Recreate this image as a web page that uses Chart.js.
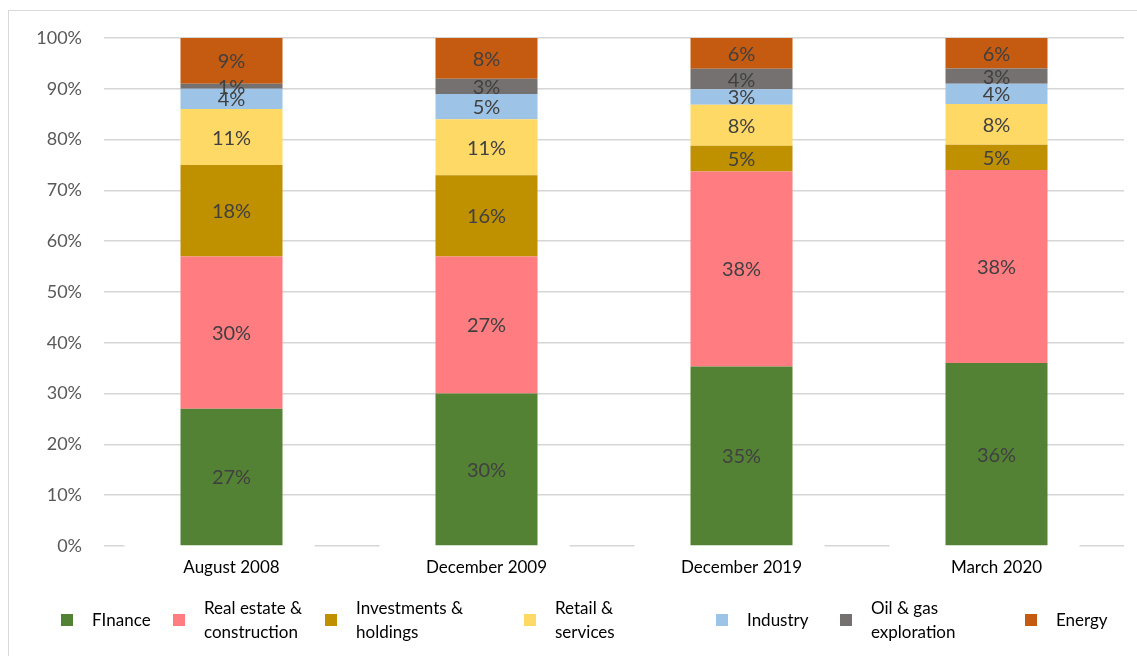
<!DOCTYPE html>
<html>
<head>
<meta charset="utf-8">
<title>Loan book by sector</title>
<script src="https://cdn.jsdelivr.net/npm/chart.js@4.4.1/dist/chart.umd.min.js"></script>
<style>
  html, body { margin: 0; padding: 0; background: #fff; }
  body { width: 1137px; height: 656px; position: relative; overflow: hidden; font-family: Lato, sans-serif; }
  #frame { position: absolute; left: 8px; top: 10px; right: -2px; bottom: -2px;
           border-top: 1px solid #d9d9d9; border-left: 1px solid #d9d9d9; }
  #wrap { position: absolute; left: 0; top: 0; width: 1137px; height: 656px; }
  #legend { position: absolute; left: 61px; top: 596px; height: 48px; display: flex; align-items: center; }
  .item { display: flex; align-items: center; flex: none; }
  .box { width: 12px; height: 12px; margin-right: 19px; flex: none; }
  .txt { font-size: 17px; line-height: 24px; color: #000; white-space: nowrap; }
</style>
</head>
<body>
<div id="frame"></div>
<div id="wrap"><canvas id="myChart" width="1137" height="656"></canvas></div>
<div id="legend"></div>

<script>
// DATA

const periods = ["August 2008", "December 2009", "December 2019", "March 2020"];
const sectors = [
  ["FInance"],
  ["Real estate &", "construction"],
  ["Investments &", "holdings"],
  ["Retail &", "services"],
  ["Industry"],
  ["Oil & gas", "exploration"],
  ["Energy"]
];
const finance     = [27, 30, 35, 36];
const realEstate  = [30, 27, 38, 38];
const investments = [18, 16, 5, 5];
const retail      = [11, 11, 8, 8];
const industry    = [4, 5, 3, 4];
const oilGas      = [1, 3, 4, 3];
const energy      = [9, 8, 6, 6];
const yTicks = [0, 10, 20, 30, 40, 50, 60, 70, 80, 90, 100];

const series = [finance, realEstate, investments, retail, industry, oilGas, energy];
const colors = ["#548235", "#ff7c80", "#bf9000", "#ffd966", "#9dc3e6", "#767171", "#c55a11"];
const legendSlotWidths = [112, 152, 199, 192, 124, 185, 0];

// 100% stacked: each column is scaled to its own total
const totals = periods.map((p, j) => series.reduce((s, arr) => s + arr[j], 0));
const shares = series.map(arr => arr.map((v, j) => v / totals[j] * 100));

// PLUGINS

// white gaps in the base line around each period
const baseGaps = {
  id: "baseGaps",
  beforeDatasetsDraw(chart) {
    const ctx = chart.ctx;
    const xs = chart.scales.x;
    const bottom = chart.chartArea.bottom;
    ctx.save();
    ctx.fillStyle = "#fff";
    periods.forEach((p, j) => {
      const cx = xs.getPixelForValue(j) - 12;
      ctx.fillRect(cx - 95, bottom - 4, 190, 8);
    });
    ctx.restore();
  }
};

// value labels in the middle of every segment
const segmentLabels = {
  id: "segmentLabels",
  afterDatasetsDraw(chart) {
    const ctx = chart.ctx;
    ctx.save();
    ctx.font = "20px Lato";
    ctx.fillStyle = "#404040";
    ctx.textAlign = "center";
    ctx.textBaseline = "middle";
    chart.data.datasets.forEach((ds, i) => {
      const meta = chart.getDatasetMeta(i);
      meta.data.forEach((bar, j) => {
        const p = bar.getProps(["x", "y", "base"], true);
        ctx.fillText(series[i][j] + "%", p.x, (p.y + p.base) / 2 + 1);
      });
    });
    ctx.restore();
  }
};

// DRAWING GRAPH

Chart.defaults.font.family = "Lato";

const ctx = document.getElementById("myChart").getContext("2d");
const myChart = new Chart(ctx, {
  type: "bar",
  data: {
    labels: periods,
    datasets: sectors.map((name, i) => ({
      label: name.join(" "),
      data: shares[i],
      backgroundColor: colors[i],
      borderWidth: 0,
      barPercentage: 0.4,
      categoryPercentage: 1
    }))
  },
  options: {
    responsive: false,
    animation: false,
    layout: { padding: { top: 38, right: 13, left: 0, bottom: 0 } },
    plugins: {
      legend: { display: false },
      tooltip: { enabled: false }
    },
    scales: {
      x: {
        stacked: true,
        grid: { display: false },
        border: { display: false },
        ticks: { color: "#000", font: { size: 17 }, padding: 3 },
        afterFit: (scale) => { scale.height = 110; }
      },
      y: {
        stacked: true,
        min: 0,
        max: 100,
        afterBuildTicks: (scale) => { scale.ticks = yTicks.map(v => ({ value: v })); },
        grid: { color: "#d6d6d6", lineWidth: 1.5, drawTicks: false },
        border: { display: false },
        ticks: {
          color: "#595959",
          font: { size: 18 },
          padding: 22,
          callback: (v) => v + "%"
        },
        afterFit: (scale) => { scale.width = 104; }
      }
    }
  },
  plugins: [baseGaps, segmentLabels]
});

// LEGEND

const legend = document.getElementById("legend");
sectors.forEach((name, i) => {
  const item = document.createElement("div");
  item.className = "item";
  if (legendSlotWidths[i]) item.style.width = legendSlotWidths[i] + "px";
  const box = document.createElement("span");
  box.className = "box";
  box.style.background = colors[i];
  const txt = document.createElement("div");
  txt.className = "txt";
  name.forEach((line, k) => {
    if (k) txt.appendChild(document.createElement("br"));
    txt.appendChild(document.createTextNode(line));
  });
  item.appendChild(box);
  item.appendChild(txt);
  legend.appendChild(item);
});
</script>
</body>
</html>
